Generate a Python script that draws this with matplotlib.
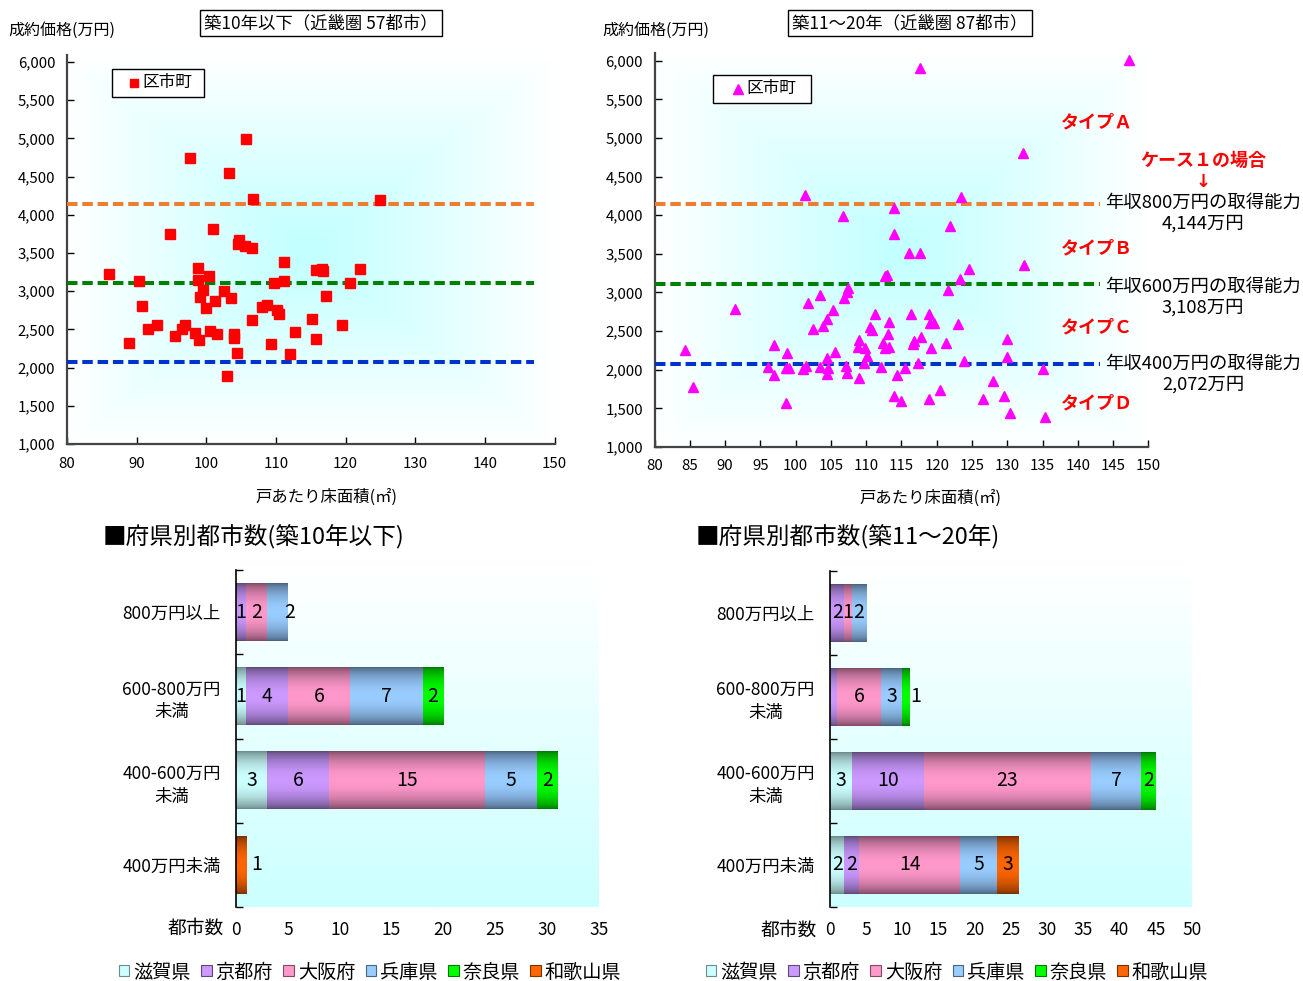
import numpy as np
import matplotlib
matplotlib.use("Agg")
import matplotlib.pyplot as plt
from matplotlib.lines import Line2D
from matplotlib.patches import Rectangle
from matplotlib.ticker import FuncFormatter, MultipleLocator

plt.rcParams["font.family"] = ["Noto Sans CJK JP", "DejaVu Sans"]

# ---------------- data ----------------
# 築10年以下 (近畿圏57都市): 戸あたり床面積(㎡) / 成約価格(万円)
area_new = [105.7, 97.7, 103.3, 106.7, 125.0, 94.8, 100.9, 104.7, 104.5, 105.5,
            106.6, 111.1, 86.0, 90.4, 98.75, 100.4, 98.75, 109.7, 111.1, 115.7,
            116.6, 116.8, 122.1, 120.6, 117.2, 99.5, 99.1, 101.3, 102.6, 103.5,
            90.7, 100.0, 91.65, 92.9, 95.5, 96.5, 96.9, 98.4, 98.9, 100.5,
            101.5, 104.0, 104.0, 106.6, 104.4, 103.0, 88.9, 108.0, 108.7, 110.1,
            110.4, 109.3, 112.8, 112.0, 115.2, 115.7, 119.5]
price_new = [4990, 4740, 4540, 4210, 4196, 3750, 3815, 3665, 3612, 3585,
             3563, 3380, 3222, 3139, 3297, 3200, 3148, 3105, 3139, 3279,
             3296, 3266, 3296, 3105, 2935, 3013, 2920, 2873, 3004, 2904,
             2804, 2786, 2502, 2555, 2411, 2502, 2555, 2458, 2362, 2480,
             2437, 2437, 2385, 2624, 2188, 1891, 2319, 2799, 2817, 2755,
             2703, 2306, 2471, 2175, 2637, 2371, 2555]

# 築11～20年 (近畿圏87都市)
area_mid = [101.3, 106.7, 114.0, 114.0, 117.6, 147.2, 132.3, 123.5, 121.9, 116.1,
            117.6, 112.7, 113.0, 107.4, 107.3, 106.9, 103.5, 101.8, 91.4, 105.3,
            111.2, 104.4, 103.9, 113.3, 110.5, 110.8, 102.4, 113.1, 97.0, 84.3,
            109.0, 108.8, 109.9, 112.4, 112.7, 113.3, 105.6, 98.8, 110.1, 104.5,
            109.7, 96.1, 98.6, 99.1, 101.0, 101.5, 103.5, 104.6, 104.4, 107.2,
            107.3, 112.1, 114.3, 97.0, 109.0, 85.5, 114.0, 114.9, 98.6, 132.4,
            124.6, 123.3, 121.6, 116.4, 118.9, 119.0, 119.6, 123.0, 116.8, 117.8,
            116.6, 121.3, 119.2, 129.9, 130.0, 117.3, 123.9, 115.5, 135.0, 128.0,
            120.4, 118.9, 126.5, 129.6, 130.4, 135.4]
price_mid = [4258, 3994, 4097, 3753, 5910, 6009, 4810, 4240, 3865, 3507,
             3507, 3213, 3230, 3054, 3010, 2933, 2963, 2868, 2782, 2769,
             2718, 2653, 2566, 2622, 2557, 2514, 2523, 2458, 2324, 2259,
             2385, 2298, 2277, 2342, 2277, 2298, 2226, 2213, 2182, 2156,
             2091, 2039, 2019, 2026, 2013, 2048, 2032, 2019, 1945, 2052,
             1954, 2032, 1932, 1932, 1897, 1781, 1664, 1595, 1574, 3356,
             3308, 3174, 3028, 2718, 2718, 2605, 2605, 2588, 2376, 2420,
             2333, 2342, 2281, 2394, 2169, 2083, 2113, 2019, 2010, 1850,
             1738, 1617, 1617, 1660, 1444, 1392]

# 取得能力 (年収800/600/400万円)
afford_values = [4144, 3108, 2072]
afford_income = ["800", "600", "400"]
afford_colors = ["#ED7D31", "#008000", "#0033CC"]

# 府県別都市数
income_classes = ["800万円以上", "600-800万円\n未満", "400-600万円\n未満", "400万円未満"]
prefectures = ["滋賀県", "京都府", "大阪府", "兵庫県", "奈良県", "和歌山県"]
counts_new = [[0, 1, 2, 2, 0, 0],
              [1, 4, 6, 7, 2, 0],
              [3, 6, 15, 5, 2, 0],
              [0, 0, 0, 0, 0, 1]]
counts_mid = [[0, 2, 1, 2, 0, 0],
              [0, 1, 6, 3, 1, 0],
              [3, 10, 23, 7, 2, 0],
              [2, 2, 14, 5, 0, 3]]

pref_light = ["#CCFFFF", "#CC99FF", "#FF99CC", "#99CCFF", "#00FF00", "#FF6600"]
pref_dark = ["#6E8A8A", "#5E4A7A", "#7E4A64", "#4A6480", "#007A00", "#7A3000"]

# ---------------- layout helpers ----------------
W, H = 1303, 981
fig = plt.figure(figsize=(W / 100, H / 100), dpi=100)


def rect(l, t, r, b):
    return [l / W, 1 - b / H, (r - l) / W, (b - t) / H]


def fx(px):
    return px / W


def fy(py):
    return 1 - py / H


def hex2rgb(h):
    h = h.lstrip("#")
    return np.array([int(h[i:i + 2], 16) / 255 for i in (0, 2, 4)])


def center_gradient(ax, xlim, ylim, cyan="#C4FFFF"):
    n = 300
    u = np.linspace(-1, 1, n)
    U, V = np.meshgrid(u, u)
    r = np.maximum(np.abs(U), np.abs(V))
    t = np.clip((1 - r) * 1.05, 0, 1)[..., None]
    c = hex2rgb(cyan)
    img = np.ones((n, n, 3)) * (1 - t) + c * t
    ax.imshow(img, extent=(xlim[0], xlim[1], ylim[0], ylim[1]), origin="lower",
              aspect="auto", zorder=0, interpolation="bilinear")


def vertical_gradient(ax, xlim, ylim, top="#FFFFFF", bottom="#CCFFFF"):
    n = 256
    t = np.linspace(0, 1, n)[:, None, None]
    img = hex2rgb(top) * (1 - t) + hex2rgb(bottom) * t
    img = np.repeat(img, 2, axis=1)
    ax.imshow(img, extent=(xlim[0], xlim[1], ylim[1], ylim[0]), origin="upper",
              aspect="auto", zorder=0, interpolation="bilinear")


def shaded_bar(ax, left, yc, width, height, light, dark):
    n = 64
    s = np.linspace(0, 1, n)
    t = np.sin(np.pi * s) ** 0.7
    lc, dc = hex2rgb(light), hex2rgb(dark)
    img = (dc * (1 - t[:, None]) + lc * t[:, None])[:, None, :]
    img = np.repeat(img, 2, axis=1)
    ax.imshow(img, extent=(left, left + width, yc + height / 2, yc - height / 2),
              origin="upper", aspect="auto", zorder=2, interpolation="bilinear")


def key_box(l, t, r, b, marker, color, ms, mx):
    """Framed key with one marker and the label 区市町."""
    fig.add_artist(Rectangle((fx(l), fy(b)), fx(r - l), (b - t) / H, transform=fig.transFigure,
                             fc="white", ec="black", lw=1.0, zorder=5))
    cy = (t + b) / 2
    fig.add_artist(Line2D([fx(mx)], [fy(cy)], ls="", marker=marker, color=color, ms=ms,
                          transform=fig.transFigure, zorder=6))
    fig.text(fx(mx + 8), fy(cy), "区市町", fontsize=12, ha="left", va="center", zorder=6)


# ---------------- scatter panels ----------------
def scatter_panel(pos, xs, ys, marker, color, ms, xstep, line_end, ytop, title):
    ax = fig.add_axes(pos)
    xlim = (80, 150)
    ylim = (1000, ytop)
    center_gradient(ax, xlim, ylim)
    ax.plot(xs, ys, ls="", marker=marker, color=color, ms=ms, mec=color, zorder=4)
    for v, c in zip(afford_values, afford_colors):
        ax.plot([80, line_end], [v, v], color=c, lw=2.9, ls=(0, (2.6, 1.2)), zorder=3)
    ax.set_xlim(*xlim)
    ax.set_ylim(*ylim)
    ax.xaxis.set_major_locator(MultipleLocator(xstep))
    ax.set_yticks(np.arange(1000, 6001, 500))
    ax.yaxis.set_major_formatter(FuncFormatter(lambda v, p: f"{v:,.0f}"))
    ax.tick_params(direction="in", length=5, width=1, labelsize=10.8, colors="black")
    ax.tick_params(axis="y", pad=8.5)
    ax.tick_params(axis="x", pad=9)
    for s in ("top", "right"):
        ax.spines[s].set_visible(False)
    for s in ("left", "bottom"):
        ax.spines[s].set_color("#444444")
        ax.spines[s].set_linewidth(1.6)
    ax.set_facecolor("white")
    fig.text(title[1], title[2], title[0], fontsize=12.5, ha="center", va="center",
             bbox=dict(boxstyle="square,pad=0.25", fc="white", ec="black", lw=1.0))
    return ax


ax1 = scatter_panel(rect(67, 55, 554.5, 444), area_new, price_new, "s", "#FF0000", 6.8, 10,
                    147.1, 6090, ("築10年以下（近畿圏 57都市）", fx(321), fy(23)))
ax2 = scatter_panel(rect(654.6, 53, 1148.3, 447), area_mid, price_mid, "^", "#FF00FF", 7.2, 5,
                    143.2, 6100, ("築11～20年（近畿圏 87都市）", fx(910), fy(23)))
key_box(112, 69, 204, 97, "s", "#FF0000", 6.0, 134)
key_box(713, 75, 811, 103, "^", "#FF00FF", 6.5, 738)

fig.text(fx(8), fy(30), "成約価格(万円)", fontsize=11.5, ha="left", va="center")
fig.text(fx(602), fy(30), "成約価格(万円)", fontsize=11.5, ha="left", va="center")
fig.text(fx(326), fy(497), "戸あたり床面積(㎡)", fontsize=11.8, ha="center", va="center")
fig.text(fx(930), fy(498), "戸あたり床面積(㎡)", fontsize=11.8, ha="center", va="center")

# annotations on the right panel
red = "#FF0000"
for lab, py in zip(["タイプＡ", "タイプＢ", "タイプＣ", "タイプＤ"], [122, 248, 327, 403]):
    fig.text(fx(1061), fy(py), lab, fontsize=13, color=red, fontweight="bold",
             ha="left", va="center")
fig.text(fx(1203), fy(160), "ケース１の場合", fontsize=13, color=red, fontweight="bold",
         ha="center", va="center")
fig.text(fx(1203), fy(182), "↓", fontsize=13, color=red, fontweight="bold",
         ha="center", va="center", family=["DejaVu Sans"])
for inc, val, py in zip(afford_income, afford_values, [203, 287, 364]):
    fig.text(fx(1105), fy(py), f"年収{inc}万円の取得能力", fontsize=13.2,
             ha="left", va="center")
    fig.text(fx(1203), fy(py + 21), f"{val // 1000},{val % 1000:03d}万円", fontsize=13.2,
             ha="center", va="center")


# ---------------- bar panels ----------------
def bar_panel(pos, counts, xmax, xstep, title_x, title, label_nudge, hidden):
    ax = fig.add_axes(pos)
    n = len(income_classes)
    ylim = (n - 0.5, -0.5)
    vertical_gradient(ax, (0, xmax), (-0.5, n - 0.5))
    bh = 0.68
    for i, row in enumerate(counts):
        left = 0
        for j, c in enumerate(row):
            if c == 0:
                continue
            shaded_bar(ax, left, i, c, bh, pref_light[j], pref_dark[j])
            if (i, j) not in hidden:
                xt = left + c / 2 + label_nudge.get((i, j), 0)
                ax.text(xt, i, str(c), fontsize=14, ha="center", va="center", zorder=5)
            left += c
    ax.set_xlim(0, xmax)
    ax.set_ylim(*ylim)
    ax.set_xticks(np.arange(0, xmax + 0.1, xstep))
    ax.set_yticks(np.arange(-0.5, n, 1.0))
    ax.set_yticklabels([])
    ax.set_yticks(np.arange(n), minor=True)
    ax.set_yticklabels(income_classes, minor=True, fontsize=12.5, linespacing=1.35,
                       multialignment="center")
    ax.tick_params(axis="y", which="major", direction="in", length=5, width=1)
    ax.tick_params(axis="y", which="minor", length=0, pad=11)
    ax.tick_params(axis="x", length=0, labelsize=12.5, pad=10)
    for s in ("top", "right", "bottom"):
        ax.spines[s].set_visible(False)
    ax.spines["left"].set_linewidth(1.2)
    ax.spines["left"].set_color("black")
    fig.text(fx(title_x), fy(537), title, fontsize=17, ha="left", va="center")
    return ax


bx1 = bar_panel(rect(236, 570, 599, 907), counts_new, 35, 5, 103,
                "■府県別都市数(築10年以下)", {(3, 5): 1.5, (0, 3): 1.2}, set())
bx2 = bar_panel(rect(830, 571, 1192, 907), counts_mid, 50, 5, 696,
                "■府県別都市数(築11～20年)", {(1, 4): 1.3}, {(1, 1)})

fig.text(fx(196), fy(928), "都市数", fontsize=13.5, ha="center", va="center")
fig.text(fx(789), fy(930), "都市数", fontsize=13.5, ha="center", va="center")

handles = [Rectangle((0, 0), 1, 1, fc=pref_light[k], ec=pref_dark[k], lw=0.8)
           for k in range(len(prefectures))]
for cx in (370, 957):
    fig.legend(handles, prefectures, loc="center", bbox_to_anchor=(fx(cx), fy(972)),
               ncol=6, frameon=False, fontsize=13.8, handlelength=0.55, handleheight=0.55,
               handletextpad=0.2, columnspacing=0.55)

fig.savefig("out.png", dpi=100)
